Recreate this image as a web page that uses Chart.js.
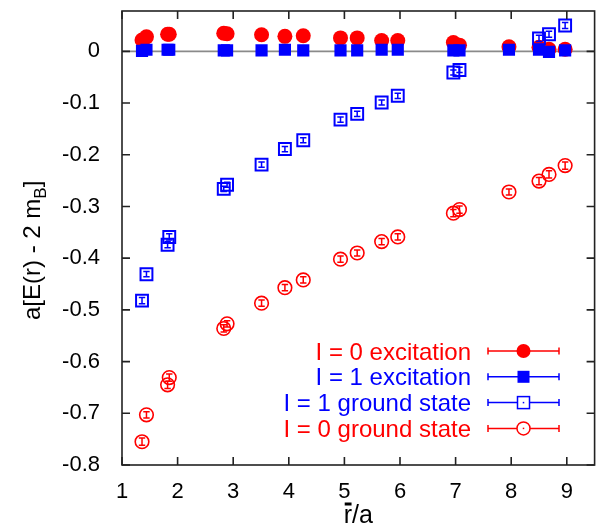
<!DOCTYPE html>
<html><head><meta charset="utf-8">
<script src="https://cdn.jsdelivr.net/npm/chart.js@4"></script>
<style>html,body{margin:0;padding:0;background:#fff;overflow:hidden}</style>
</head><body>
<canvas id="c" width="605" height="525"></canvas>
<script>
// ---- data ----
const rAll = [1.36, 1.44, 1.82, 1.85, 2.83, 2.89, 3.51, 3.93, 4.26, 4.93, 5.23, 5.67, 5.96, 6.96, 7.07, 7.96, 8.50, 8.68, 8.97];
const excI0 = [0.022, 0.028, 0.033, 0.033, 0.035, 0.034, 0.032, 0.029, 0.030, 0.026, 0.026, 0.021, 0.021, 0.017, 0.012, 0.009, 0.008, 0.004, 0.004];
const excI1 = [0.001, 0.003, 0.003, 0.003, 0.002, 0.002, 0.002, 0.003, 0.002, 0.002, 0.002, 0.003, 0.003, 0.002, 0.002, 0.003, 0.003, -0.001, 0.002];
const rGndI1 = [1.36, 1.44, 1.82, 1.85, 2.83, 2.89, 3.51, 3.93, 4.26, 4.93, 5.23, 5.67, 5.96, 6.96, 7.07, 8.50, 8.68, 8.97];
const gndI1 = [-0.482, -0.431, -0.374, -0.359, -0.266, -0.258, -0.219, -0.189, -0.172, -0.132, -0.121, -0.099, -0.086, -0.041, -0.036, 0.025, 0.033, 0.050];
const errI1 = [0.006, 0.005, 0.006, 0.006, 0.005, 0.005, 0.005, 0.005, 0.005, 0.005, 0.005, 0.005, 0.005, 0.005, 0.005, 0.006, 0.006, 0.006];
const gndI0 = [-0.755, -0.703, -0.645, -0.631, -0.536, -0.527, -0.487, -0.457, -0.442, -0.402, -0.390, -0.368, -0.359, -0.313, -0.306, -0.272, -0.251, -0.238, -0.221];
const errI0 = [0.007, 0.006, 0.007, 0.007, 0.007, 0.006, 0.006, 0.006, 0.006, 0.006, 0.006, 0.006, 0.006, 0.007, 0.007, 0.006, 0.007, 0.007, 0.007];
const seriesNames = ['I = 0 excitation', 'I = 1 excitation', 'I = 1 ground state', 'I = 0 ground state'];
const xTickValues = [1, 2, 3, 4, 5, 6, 7, 8, 9];
const xTickLabels = ['1', '2', '3', '4', '5', '6', '7', '8', '9'];
const yTickValues = [0, -0.1, -0.2, -0.3, -0.4, -0.5, -0.6, -0.7, -0.8];
const yTickLabels = ['0', '-0.1', '-0.2', '-0.3', '-0.4', '-0.5', '-0.6', '-0.7', '-0.8'];
const xTitle = 'r/a';
const yTitleMain = 'a[E(r) - 2 m';
const yTitleSub = 'B';
const yTitleEnd = ']';

const RED = '#ff0000', BLUE = '#0000ff';
const FONT = '"Liberation Sans", Arial, sans-serif';

const pts = (xs, ys) => xs.map((x, i) => ({x, y: ys[i]}));

const datasets = [
  {label: seriesNames[0], data: pts(rAll, excI0), pointStyle: 'circle', pointRadius: 7.5,
   backgroundColor: RED, borderColor: RED, borderWidth: 0, order: 4, legendStyle: 'fcircle'},
  {label: seriesNames[1], data: pts(rAll, excI1), pointStyle: 'rect', pointRadius: 8.6,
   backgroundColor: BLUE, borderColor: BLUE, borderWidth: 0, order: 3, legendStyle: 'fsquare'},
  {label: seriesNames[2], data: pts(rGndI1, gndI1), errors: errI1, pointStyle: 'rect', pointRadius: 8.4,
   backgroundColor: 'rgba(255,255,255,0)', borderColor: BLUE, borderWidth: 2, order: 2, legendStyle: 'osquare'},
  {label: seriesNames[3], data: pts(rAll, gndI0), errors: errI0, pointStyle: 'circle', pointRadius: 6.8,
   backgroundColor: 'rgba(255,255,255,0)', borderColor: RED, borderWidth: 1.6, order: 1, legendStyle: 'ocircle'}
];
datasets.forEach(d => { d.showLine = false; d.pointHoverRadius = d.pointRadius; });

const TICK = 8;
const deco = {
  id: 'deco',
  beforeDatasetsDraw(chart) {
    const {ctx, chartArea: a, scales: {y}} = chart;
    const y0 = y.getPixelForValue(0);
    ctx.save();
    ctx.strokeStyle = '#8a8a8a'; ctx.lineWidth = 1.6;
    ctx.beginPath(); ctx.moveTo(a.left, y0); ctx.lineTo(a.right, y0); ctx.stroke();
    ctx.restore();
  },
  afterDatasetsDraw(chart) {
    const {ctx, chartArea: a, scales: {x, y}} = chart;
    ctx.save();
    // error bars
    chart.data.datasets.forEach(ds => {
      if (!ds.errors) return;
      ctx.strokeStyle = ds.borderColor; ctx.lineWidth = 1.5;
      ds.data.forEach((p, i) => {
        const px = x.getPixelForValue(p.x);
        const yl = y.getPixelForValue(p.y - ds.errors[i]);
        const yh = y.getPixelForValue(p.y + ds.errors[i]);
        ctx.beginPath();
        ctx.moveTo(px, yl); ctx.lineTo(px, yh);
        ctx.moveTo(px - 3.2, yl); ctx.lineTo(px + 3.2, yl);
        ctx.moveTo(px - 3.2, yh); ctx.lineTo(px + 3.2, yh);
        ctx.stroke();
      });
    });
    // frame
    ctx.strokeStyle = '#222'; ctx.lineWidth = 1.6;
    ctx.strokeRect(a.left, a.top, a.right - a.left, a.bottom - a.top);
    ctx.beginPath();
    xTickValues.forEach(v => {
      const px = x.getPixelForValue(v);
      ctx.moveTo(px, a.bottom); ctx.lineTo(px, a.bottom - TICK);
      ctx.moveTo(px, a.top); ctx.lineTo(px, a.top + TICK);
    });
    yTickValues.forEach(v => {
      const py = y.getPixelForValue(v);
      ctx.moveTo(a.left, py); ctx.lineTo(a.left + TICK, py);
      ctx.moveTo(a.right, py); ctx.lineTo(a.right - TICK, py);
    });
    ctx.stroke();

    // legend
    const lgRight = 471, sx0 = 488, sx1 = 559, sxc = 523.5, row0 = 351, rowH = 25.8;
    ctx.font = '24px ' + FONT;
    ctx.textAlign = 'right'; ctx.textBaseline = 'alphabetic';
    chart.data.datasets.forEach((ds, i) => {
      const ly = row0 + i * rowH;
      ctx.fillStyle = ds.borderColor;
      ctx.fillText(ds.label, lgRight, ly + 8.5);
      ctx.strokeStyle = ds.borderColor; ctx.lineWidth = 1.5;
      ctx.beginPath();
      ctx.moveTo(sx0, ly); ctx.lineTo(sx1, ly);
      ctx.moveTo(sx0, ly - 3.5); ctx.lineTo(sx0, ly + 3.5);
      ctx.moveTo(sx1, ly - 3.5); ctx.lineTo(sx1, ly + 3.5);
      ctx.stroke();
      ctx.fillStyle = ds.borderColor;
      if (ds.legendStyle === 'fcircle') { ctx.beginPath(); ctx.arc(sxc, ly, 7, 0, Math.PI * 2); ctx.fill(); }
      else if (ds.legendStyle === 'fsquare') { ctx.fillRect(sxc - 6, ly - 6, 12, 12); }
      else if (ds.legendStyle === 'osquare') {
        ctx.fillStyle = '#fff'; ctx.fillRect(sxc - 6, ly - 6, 12, 12);
        ctx.strokeRect(sxc - 6, ly - 6, 12, 12);
        ctx.fillStyle = ds.borderColor; ctx.fillRect(sxc - 0.75, ly - 0.75, 1.5, 1.5);
      } else {
        ctx.fillStyle = '#fff'; ctx.beginPath(); ctx.arc(sxc, ly, 6.5, 0, Math.PI * 2); ctx.fill(); ctx.stroke();
        ctx.fillStyle = ds.borderColor; ctx.fillRect(sxc - 0.75, ly - 0.75, 1.5, 1.5);
      }
    });

    // x title with overbar on r
    ctx.fillStyle = '#000';
    ctx.font = '25px ' + FONT;
    ctx.textAlign = 'left';
    const tw = ctx.measureText(xTitle).width;
    const tx = (a.left + a.right) / 2 - tw / 2, ty = 523;
    ctx.fillText(xTitle, tx, ty);
    const rw = ctx.measureText(xTitle[0]).width;
    ctx.fillRect(tx + 1, ty - 20.5, rw - 1.5, 3);

    // y title (rotated) with subscript
    ctx.translate(40, 320);
    ctx.rotate(-Math.PI / 2);
    ctx.font = '24px ' + FONT;
    ctx.fillText(yTitleMain, 0, 0);
    let off = ctx.measureText(yTitleMain).width;
    ctx.font = '17px ' + FONT;
    ctx.fillText(yTitleSub, off, 6);
    off += ctx.measureText(yTitleSub).width;
    ctx.font = '24px ' + FONT;
    ctx.fillText(yTitleEnd, off, 0);
    ctx.restore();
  }
};

const noPad = s => { s.paddingTop = 0; s.paddingBottom = 0; s.paddingLeft = 0; s.paddingRight = 0; };

new Chart(document.getElementById('c'), {
  type: 'scatter',
  data: {datasets},
  plugins: [deco],
  options: {
    responsive: false,
    animation: false,
    events: [],
    layout: {padding: {top: 11, right: 0, left: 0, bottom: 0}},
    plugins: {legend: {display: false}, tooltip: {enabled: false}},
    scales: {
      x: {
        type: 'linear', min: 1, max: 9.5,
        grid: {display: false, drawTicks: false}, border: {display: false},
        afterBuildTicks: s => { s.ticks = xTickValues.map(v => ({value: v})); },
        afterFit: s => { s.height = 60; noPad(s); },
        ticks: {padding: 14, color: '#000', font: {family: FONT, size: 22},
                callback: (v, i) => xTickLabels[i], maxRotation: 0, autoSkip: false}
      },
      y: {
        type: 'linear', min: -0.8, max: 0.078,
        grid: {display: false, drawTicks: false}, border: {display: false},
        afterBuildTicks: s => { s.ticks = yTickValues.map(v => ({value: v})); },
        afterFit: s => { s.width = 122; noPad(s); },
        ticks: {padding: 22, color: '#000', font: {family: FONT, size: 22},
                callback: (v, i) => yTickLabels[i], autoSkip: false}
      }
    }
  }
});
</script>
</body></html>
